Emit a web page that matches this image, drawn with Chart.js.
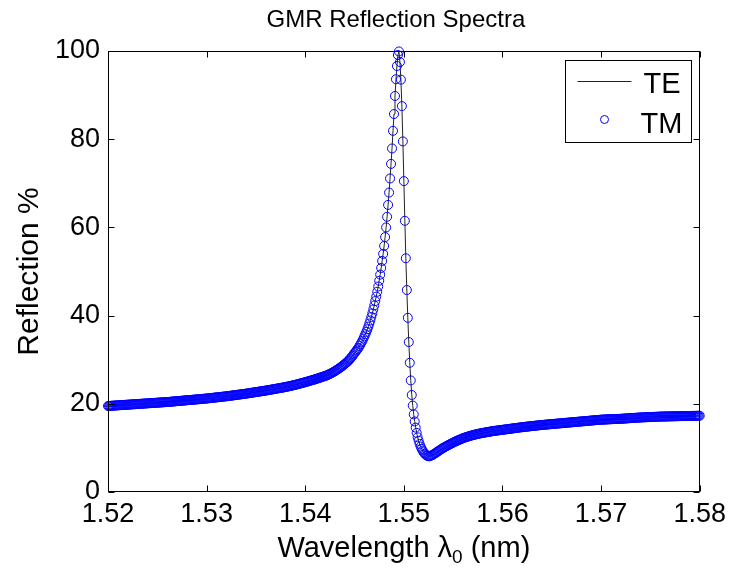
<!DOCTYPE html>
<html>
<head>
<meta charset="utf-8">
<title>GMR Reflection Spectra</title>
<script src="https://cdn.jsdelivr.net/npm/chart.js@4.4.1/dist/chart.umd.min.js"></script>
<style>
    html, body { margin: 0; padding: 0; background: #fff; }
    #wrap { width: 732px; height: 573px; }
</style>
</head>
<body>
<div id="wrap"><canvas id="gmr-chart" width="732" height="573"></canvas></div>
<script>
const $ = document.querySelector.bind(document)
const ctx = $("#gmr-chart")

const FONT = '"Liberation Sans", Arial, Helvetica, sans-serif'

const chartTitle = "GMR Reflection Spectra"
const yLabel = "Reflection %"
const xTicks = [1.52, 1.53, 1.54, 1.55, 1.56, 1.57, 1.58]
const yTicks = [0, 20, 40, 60, 80, 100]

// wavelength in um, one sample every 0.1 nm
const wavelength = [
    1.5200,1.5201,1.5202,1.5203,1.5204,1.5205,1.5206,1.5207,1.5208,1.5209,
    1.5210,1.5211,1.5212,1.5213,1.5214,1.5215,1.5216,1.5217,1.5218,1.5219,
    1.5220,1.5221,1.5222,1.5223,1.5224,1.5225,1.5226,1.5227,1.5228,1.5229,
    1.5230,1.5231,1.5232,1.5233,1.5234,1.5235,1.5236,1.5237,1.5238,1.5239,
    1.5240,1.5241,1.5242,1.5243,1.5244,1.5245,1.5246,1.5247,1.5248,1.5249,
    1.5250,1.5251,1.5252,1.5253,1.5254,1.5255,1.5256,1.5257,1.5258,1.5259,
    1.5260,1.5261,1.5262,1.5263,1.5264,1.5265,1.5266,1.5267,1.5268,1.5269,
    1.5270,1.5271,1.5272,1.5273,1.5274,1.5275,1.5276,1.5277,1.5278,1.5279,
    1.5280,1.5281,1.5282,1.5283,1.5284,1.5285,1.5286,1.5287,1.5288,1.5289,
    1.5290,1.5291,1.5292,1.5293,1.5294,1.5295,1.5296,1.5297,1.5298,1.5299,
    1.5300,1.5301,1.5302,1.5303,1.5304,1.5305,1.5306,1.5307,1.5308,1.5309,
    1.5310,1.5311,1.5312,1.5313,1.5314,1.5315,1.5316,1.5317,1.5318,1.5319,
    1.5320,1.5321,1.5322,1.5323,1.5324,1.5325,1.5326,1.5327,1.5328,1.5329,
    1.5330,1.5331,1.5332,1.5333,1.5334,1.5335,1.5336,1.5337,1.5338,1.5339,
    1.5340,1.5341,1.5342,1.5343,1.5344,1.5345,1.5346,1.5347,1.5348,1.5349,
    1.5350,1.5351,1.5352,1.5353,1.5354,1.5355,1.5356,1.5357,1.5358,1.5359,
    1.5360,1.5361,1.5362,1.5363,1.5364,1.5365,1.5366,1.5367,1.5368,1.5369,
    1.5370,1.5371,1.5372,1.5373,1.5374,1.5375,1.5376,1.5377,1.5378,1.5379,
    1.5380,1.5381,1.5382,1.5383,1.5384,1.5385,1.5386,1.5387,1.5388,1.5389,
    1.5390,1.5391,1.5392,1.5393,1.5394,1.5395,1.5396,1.5397,1.5398,1.5399,
    1.5400,1.5401,1.5402,1.5403,1.5404,1.5405,1.5406,1.5407,1.5408,1.5409,
    1.5410,1.5411,1.5412,1.5413,1.5414,1.5415,1.5416,1.5417,1.5418,1.5419,
    1.5420,1.5421,1.5422,1.5423,1.5424,1.5425,1.5426,1.5427,1.5428,1.5429,
    1.5430,1.5431,1.5432,1.5433,1.5434,1.5435,1.5436,1.5437,1.5438,1.5439,
    1.5440,1.5441,1.5442,1.5443,1.5444,1.5445,1.5446,1.5447,1.5448,1.5449,
    1.5450,1.5451,1.5452,1.5453,1.5454,1.5455,1.5456,1.5457,1.5458,1.5459,
    1.5460,1.5461,1.5462,1.5463,1.5464,1.5465,1.5466,1.5467,1.5468,1.5469,
    1.5470,1.5471,1.5472,1.5473,1.5474,1.5475,1.5476,1.5477,1.5478,1.5479,
    1.5480,1.5481,1.5482,1.5483,1.5484,1.5485,1.5486,1.5487,1.5488,1.5489,
    1.5490,1.5491,1.5492,1.5493,1.5494,1.5495,1.5496,1.5497,1.5498,1.5499,
    1.5500,1.5501,1.5502,1.5503,1.5504,1.5505,1.5506,1.5507,1.5508,1.5509,
    1.5510,1.5511,1.5512,1.5513,1.5514,1.5515,1.5516,1.5517,1.5518,1.5519,
    1.5520,1.5521,1.5522,1.5523,1.5524,1.5525,1.5526,1.5527,1.5528,1.5529,
    1.5530,1.5531,1.5532,1.5533,1.5534,1.5535,1.5536,1.5537,1.5538,1.5539,
    1.5540,1.5541,1.5542,1.5543,1.5544,1.5545,1.5546,1.5547,1.5548,1.5549,
    1.5550,1.5551,1.5552,1.5553,1.5554,1.5555,1.5556,1.5557,1.5558,1.5559,
    1.5560,1.5561,1.5562,1.5563,1.5564,1.5565,1.5566,1.5567,1.5568,1.5569,
    1.5570,1.5571,1.5572,1.5573,1.5574,1.5575,1.5576,1.5577,1.5578,1.5579,
    1.5580,1.5581,1.5582,1.5583,1.5584,1.5585,1.5586,1.5587,1.5588,1.5589,
    1.5590,1.5591,1.5592,1.5593,1.5594,1.5595,1.5596,1.5597,1.5598,1.5599,
    1.5600,1.5601,1.5602,1.5603,1.5604,1.5605,1.5606,1.5607,1.5608,1.5609,
    1.5610,1.5611,1.5612,1.5613,1.5614,1.5615,1.5616,1.5617,1.5618,1.5619,
    1.5620,1.5621,1.5622,1.5623,1.5624,1.5625,1.5626,1.5627,1.5628,1.5629,
    1.5630,1.5631,1.5632,1.5633,1.5634,1.5635,1.5636,1.5637,1.5638,1.5639,
    1.5640,1.5641,1.5642,1.5643,1.5644,1.5645,1.5646,1.5647,1.5648,1.5649,
    1.5650,1.5651,1.5652,1.5653,1.5654,1.5655,1.5656,1.5657,1.5658,1.5659,
    1.5660,1.5661,1.5662,1.5663,1.5664,1.5665,1.5666,1.5667,1.5668,1.5669,
    1.5670,1.5671,1.5672,1.5673,1.5674,1.5675,1.5676,1.5677,1.5678,1.5679,
    1.5680,1.5681,1.5682,1.5683,1.5684,1.5685,1.5686,1.5687,1.5688,1.5689,
    1.5690,1.5691,1.5692,1.5693,1.5694,1.5695,1.5696,1.5697,1.5698,1.5699,
    1.5700,1.5701,1.5702,1.5703,1.5704,1.5705,1.5706,1.5707,1.5708,1.5709,
    1.5710,1.5711,1.5712,1.5713,1.5714,1.5715,1.5716,1.5717,1.5718,1.5719,
    1.5720,1.5721,1.5722,1.5723,1.5724,1.5725,1.5726,1.5727,1.5728,1.5729,
    1.5730,1.5731,1.5732,1.5733,1.5734,1.5735,1.5736,1.5737,1.5738,1.5739,
    1.5740,1.5741,1.5742,1.5743,1.5744,1.5745,1.5746,1.5747,1.5748,1.5749,
    1.5750,1.5751,1.5752,1.5753,1.5754,1.5755,1.5756,1.5757,1.5758,1.5759,
    1.5760,1.5761,1.5762,1.5763,1.5764,1.5765,1.5766,1.5767,1.5768,1.5769,
    1.5770,1.5771,1.5772,1.5773,1.5774,1.5775,1.5776,1.5777,1.5778,1.5779,
    1.5780,1.5781,1.5782,1.5783,1.5784,1.5785,1.5786,1.5787,1.5788,1.5789,
    1.5790,1.5791,1.5792,1.5793,1.5794,1.5795,1.5796,1.5797,1.5798,1.5799,
    1.5800
]

// reflection in %
const reflectionTM = [
    19.50,19.52,19.53,19.55,19.56,19.58,19.59,19.61,19.62,19.64,
    19.65,19.67,19.68,19.70,19.71,19.73,19.74,19.76,19.77,19.79,
    19.80,19.82,19.83,19.85,19.86,19.88,19.89,19.91,19.92,19.94,
    19.95,19.97,19.98,20.00,20.01,20.03,20.04,20.06,20.07,20.09,
    20.10,20.12,20.13,20.15,20.16,20.18,20.19,20.21,20.22,20.24,
    20.25,20.27,20.28,20.30,20.31,20.33,20.34,20.36,20.37,20.39,
    20.40,20.42,20.44,20.46,20.48,20.50,20.52,20.54,20.56,20.58,
    20.60,20.62,20.64,20.66,20.68,20.70,20.72,20.74,20.76,20.78,
    20.80,20.82,20.84,20.86,20.88,20.90,20.92,20.94,20.96,20.98,
    21.00,21.02,21.04,21.06,21.08,21.10,21.12,21.14,21.16,21.18,
    21.20,21.23,21.25,21.28,21.30,21.33,21.35,21.38,21.40,21.43,
    21.45,21.48,21.50,21.53,21.55,21.58,21.60,21.63,21.65,21.68,
    21.70,21.73,21.76,21.79,21.82,21.85,21.88,21.91,21.94,21.97,
    22.00,22.03,22.06,22.09,22.12,22.15,22.18,22.21,22.24,22.27,
    22.30,22.34,22.37,22.41,22.44,22.48,22.51,22.55,22.58,22.62,
    22.65,22.69,22.72,22.76,22.79,22.83,22.86,22.90,22.93,22.97,
    23.00,23.04,23.08,23.12,23.16,23.20,23.24,23.28,23.32,23.36,
    23.40,23.44,23.48,23.52,23.56,23.60,23.64,23.68,23.72,23.76,
    23.80,23.85,23.90,23.95,24.00,24.05,24.10,24.15,24.20,24.25,
    24.30,24.36,24.42,24.48,24.54,24.60,24.66,24.72,24.78,24.84,
    24.90,24.97,25.03,25.10,25.16,25.23,25.29,25.36,25.42,25.49,
    25.55,25.63,25.70,25.78,25.85,25.93,26.00,26.08,26.15,26.23,
    26.30,26.38,26.47,26.57,26.67,26.78,26.89,27.01,27.13,27.26,
    27.40,27.54,27.68,27.83,27.98,28.14,28.30,28.47,28.64,28.82,
    29.00,29.20,29.40,29.60,29.80,30.10,30.30,30.60,30.90,31.20,
    31.50,31.80,32.10,32.40,32.70,33.10,33.50,33.90,34.30,34.80,
    35.30,35.80,36.30,36.90,37.50,38.20,38.90,39.70,40.50,41.40,
    42.30,43.30,44.30,45.40,46.60,47.90,49.30,50.80,52.40,54.00,
    55.80,57.80,60.00,62.40,65.10,67.90,71.10,74.40,77.90,81.90,
    85.70,89.80,93.60,96.60,99.10,99.90,97.50,93.50,87.50,79.50,
    70.50,61.50,53.00,45.80,39.50,34.00,29.30,25.30,22.00,19.60,
    17.60,16.00,14.60,13.40,12.40,11.60,10.90,10.30,9.80,9.40,
    9.00,8.70,8.50,8.30,8.20,8.10,8.10,8.20,8.30,8.40,
    8.50,8.70,8.80,9.00,9.10,9.30,9.40,9.60,9.70,9.90,
    10.00,10.13,10.26,10.38,10.50,10.62,10.74,10.86,10.97,11.09,
    11.20,11.31,11.42,11.52,11.62,11.72,11.82,11.92,12.01,12.11,
    12.20,12.28,12.35,12.43,12.50,12.57,12.64,12.71,12.78,12.84,
    12.90,12.96,13.01,13.07,13.12,13.17,13.22,13.27,13.31,13.36,
    13.40,13.44,13.48,13.52,13.56,13.60,13.64,13.68,13.72,13.76,
    13.80,13.83,13.86,13.89,13.92,13.95,13.98,14.01,14.04,14.07,
    14.10,14.13,14.16,14.19,14.22,14.25,14.28,14.31,14.34,14.37,
    14.40,14.43,14.46,14.49,14.52,14.55,14.58,14.61,14.64,14.67,
    14.70,14.73,14.75,14.78,14.80,14.83,14.85,14.88,14.90,14.93,
    14.95,14.98,15.00,15.03,15.05,15.08,15.10,15.13,15.15,15.18,
    15.20,15.22,15.24,15.26,15.28,15.30,15.32,15.34,15.36,15.38,
    15.40,15.42,15.44,15.46,15.48,15.50,15.52,15.54,15.56,15.58,
    15.60,15.62,15.64,15.66,15.68,15.70,15.72,15.74,15.76,15.78,
    15.80,15.82,15.84,15.86,15.88,15.90,15.92,15.94,15.96,15.98,
    16.00,16.02,16.04,16.06,16.08,16.10,16.12,16.14,16.16,16.18,
    16.20,16.22,16.24,16.26,16.28,16.30,16.32,16.34,16.36,16.38,
    16.40,16.41,16.42,16.43,16.44,16.45,16.46,16.47,16.48,16.49,
    16.50,16.51,16.52,16.53,16.54,16.55,16.56,16.57,16.58,16.59,
    16.60,16.62,16.63,16.65,16.66,16.68,16.69,16.71,16.72,16.74,
    16.75,16.77,16.78,16.80,16.81,16.83,16.84,16.86,16.87,16.89,
    16.90,16.91,16.92,16.93,16.94,16.95,16.96,16.97,16.98,16.99,
    17.00,17.01,17.02,17.03,17.04,17.05,17.06,17.07,17.08,17.09,
    17.10,17.10,17.11,17.11,17.12,17.12,17.13,17.13,17.14,17.14,
    17.15,17.15,17.16,17.16,17.17,17.17,17.18,17.18,17.19,17.19,
    17.20,17.20,17.21,17.21,17.22,17.22,17.23,17.23,17.24,17.24,
    17.25,17.25,17.26,17.26,17.27,17.27,17.28,17.28,17.29,17.29,
    17.30
]

// TE and TM coincide on this plot
const reflectionTE = reflectionTM

if (wavelength.length !== reflectionTM.length)
    console.warn(`length mismatch: ${wavelength.length} vs ${reflectionTM.length}`)

const toPoints = (ys) => wavelength.map((w, i) => ({x: w, y: ys[i]}))

// MATLAB-style frame: box, inward ticks, title, axis labels and legend
const matlabFrame = {
    id: "matlabFrame",
    afterDatasetsDraw(chart) {
        const {ctx, chartArea: a, scales: {x, y}} = chart
        const L = Math.round(a.left) + 0.5
        const R = Math.round(a.right) - 0.5
        const T = Math.round(a.top) + 0.5
        const B = Math.round(a.bottom) - 0.5
        const tick = 6

        ctx.save()
        ctx.strokeStyle = "#000"
        ctx.lineWidth = 1
        ctx.strokeRect(L, T, R - L, B - T)

        ctx.beginPath()
        xTicks.forEach(v => {
            const px = Math.round(x.getPixelForValue(v)) + 0.5
            ctx.moveTo(px, B); ctx.lineTo(px, B - tick)
            ctx.moveTo(px, T); ctx.lineTo(px, T + tick)
        })
        yTicks.forEach(v => {
            const py = Math.round(y.getPixelForValue(v)) + 0.5
            ctx.moveTo(L, py); ctx.lineTo(L + tick, py)
            ctx.moveTo(R, py); ctx.lineTo(R - tick, py)
        })
        ctx.stroke()

        ctx.fillStyle = "#000"

        // title
        ctx.font = `24px ${FONT}`
        ctx.textAlign = "center"
        ctx.textBaseline = "alphabetic"
        ctx.fillText(chartTitle, (a.left + a.right) / 2 - 8, 27)

        // x label with subscript
        const cx = (a.left + a.right) / 2
        const base = 557
        const partA = "Wavelength \u03bb"
        const partB = " (nm)"
        ctx.font = `29px ${FONT}`
        const wA = ctx.measureText(partA).width
        const wB = ctx.measureText(partB).width
        ctx.font = `19px ${FONT}`
        const wSub = ctx.measureText("0").width
        let sx = cx - (wA + wSub + wB) / 2
        ctx.textAlign = "left"
        ctx.font = `29px ${FONT}`
        ctx.fillText(partA, sx, base)
        sx += wA
        ctx.font = `19px ${FONT}`
        ctx.fillText("0", sx, base + 6)
        sx += wSub
        ctx.font = `29px ${FONT}`
        ctx.fillText(partB, sx, base)

        // y label
        ctx.save()
        ctx.translate(30, (a.top + a.bottom) / 2)
        ctx.rotate(-Math.PI / 2)
        ctx.textAlign = "center"
        ctx.textBaseline = "middle"
        ctx.font = `30px ${FONT}`
        ctx.fillText(yLabel, 0, 0)
        ctx.restore()

        // legend box in the top right corner
        const [te, tm] = chart.data.datasets
        const lx = Math.round(a.right) - 134.5
        const ly = Math.round(a.top) + 9.5
        ctx.fillStyle = "#fff"
        ctx.fillRect(lx, ly, 126, 82)
        ctx.strokeStyle = "#000"
        ctx.strokeRect(lx, ly, 126, 82)

        ctx.strokeStyle = te.borderColor
        ctx.beginPath()
        ctx.moveTo(lx + 12, ly + 21)
        ctx.lineTo(lx + 66, ly + 21)
        ctx.stroke()

        ctx.strokeStyle = tm.borderColor
        ctx.beginPath()
        ctx.arc(lx + 39, ly + 59, 4, 0, Math.PI * 2)
        ctx.stroke()

        ctx.fillStyle = "#000"
        ctx.font = `29px ${FONT}`
        ctx.textAlign = "left"
        ctx.textBaseline = "alphabetic"
        ctx.fillText(te.label, lx + 78, ly + 32)
        ctx.fillText(tm.label, lx + 75, ly + 72)

        ctx.restore()
    }
}

new Chart(ctx, {
    type: "scatter",
    data: {
        datasets: [{
            label: "TE",
            data: toPoints(reflectionTE),
            showLine: true,
            borderColor: "#222",
            borderWidth: 1,
            pointRadius: 0,
            tension: 0,
            order: 1,
        }, {
            label: "TM",
            data: toPoints(reflectionTM),
            showLine: false,
            pointStyle: "circle",
            pointRadius: 4.5,
            pointBorderWidth: 1,
            borderColor: "#0000ff",
            pointBorderColor: "#0000ff",
            pointBackgroundColor: "rgba(0,0,0,0)",
            clip: 8,
            order: 0,
        }]
    },
    options: {
        responsive: false,
        animation: false,
        devicePixelRatio: 1,
        layout: {
            padding: {top: 51, right: 31, bottom: 0, left: 0}
        },
        scales: {
            x: {
                type: "linear",
                min: 1.52,
                max: 1.58,
                afterBuildTicks: (scale) => {
                    scale.ticks = xTicks.map(v => ({value: v}))
                },
                afterFit: (scale) => {
                    scale.height = 81
                },
                ticks: {
                    callback: (value) => value.toFixed(2),
                    font: {family: FONT, size: 27},
                    color: "#000",
                    padding: 6,
                    maxRotation: 0,
                    autoSkip: false,
                },
                grid: {drawOnChartArea: false, drawTicks: false},
                border: {display: false},
            },
            y: {
                min: 0,
                max: 100,
                afterBuildTicks: (scale) => {
                    scale.ticks = yTicks.map(v => ({value: v}))
                },
                afterFit: (scale) => {
                    scale.width = 108
                },
                ticks: {
                    font: {family: FONT, size: 27},
                    color: "#000",
                    padding: 8,
                },
                grid: {drawOnChartArea: false, drawTicks: false},
                border: {display: false},
            }
        },
        plugins: {
            legend: {display: false},
            tooltip: {enabled: false}
        }
    },
    plugins: [matlabFrame]
});
</script>
</body>
</html>
